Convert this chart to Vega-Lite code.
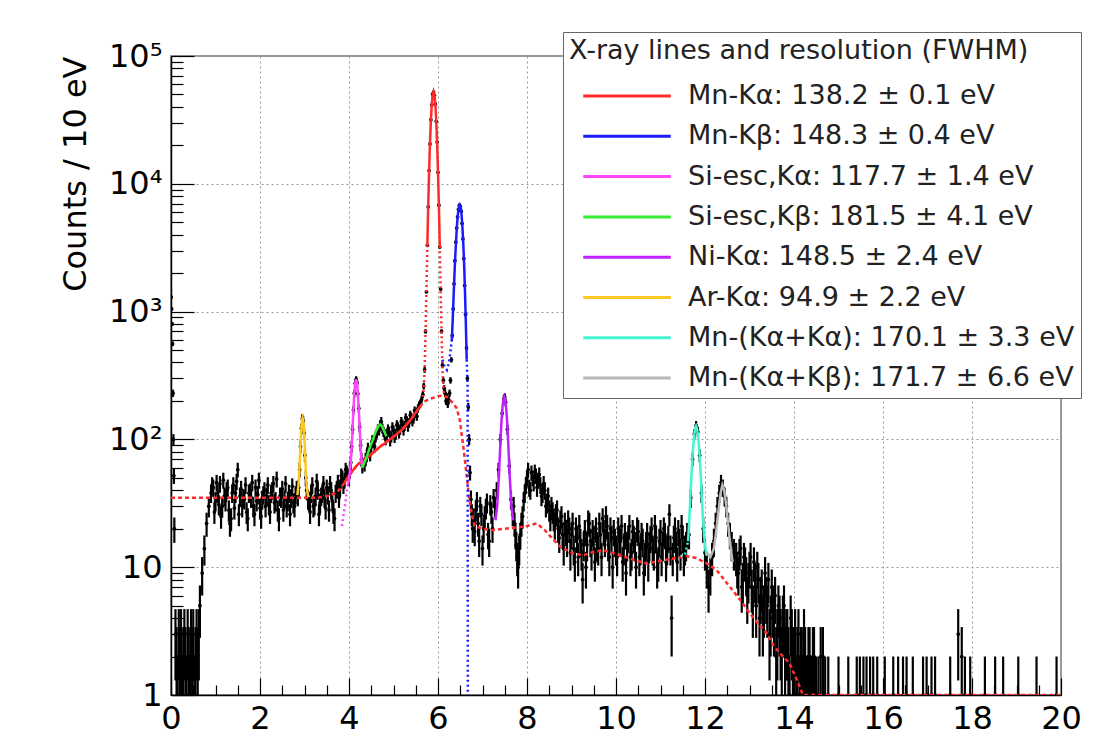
{
"$schema":"https://vega.github.io/schema/vega-lite/v6.json",
"width":890,"height":639,
"autosize":"none",
"padding":{"left":171,"top":56,"right":40,"bottom":60},
"background":"white",
"config":{"view":{"stroke":"#999","strokeWidth":2},"font":"DejaVu Sans","axis":{"labelFont":"DejaVu Sans","titleFont":"DejaVu Sans","labelColor":"black","titleColor":"black"}},
"resolve":{"axis":{"x":"independent","y":"independent"}},
"datasets":{
"data":[
{"x":0.005,"y":1300,"lo":1264,"hi":1336},{"x":0.015,"y":1050,"lo":1018,"hi":1082},{"x":0.025,"y":800,"lo":772,"hi":828},{"x":0.035,"y":560,"lo":536,"hi":584},{"x":0.045,"y":230,"lo":215,"hi":245},{"x":0.055,"y":100,"lo":90,"hi":110},{"x":0.065,"y":52,"lo":44.8,"hi":59.2},{"x":0.075,"y":20,"lo":15.5,"hi":24.5},
{"x":0.1,"y":3,"lo":1.3,"hi":4.7},{"x":0.125,"y":2,"lo":0.6,"hi":3.4},{"x":0.15,"y":1,"lo":0.5,"hi":2},{"x":0.175,"y":3,"lo":1.3,"hi":4.7},{"x":0.2,"y":2,"lo":0.6,"hi":3.4},{"x":0.225,"y":3,"lo":1.3,"hi":4.7},{"x":0.25,"y":1,"lo":0.5,"hi":2},{"x":0.275,"y":2,"lo":0.6,"hi":3.4},{"x":0.3,"y":3,"lo":1.3,"hi":4.7},{"x":0.325,"y":2,"lo":0.6,"hi":3.4},{"x":0.35,"y":1,"lo":0.5,"hi":2},{"x":0.375,"y":3,"lo":1.3,"hi":4.7},{"x":0.4,"y":2,"lo":0.6,"hi":3.4},{"x":0.425,"y":1,"lo":0.5,"hi":2},{"x":0.45,"y":3,"lo":1.3,"hi":4.7},{"x":0.475,"y":2,"lo":0.6,"hi":3.4},{"x":0.5,"y":3,"lo":1.3,"hi":4.7},{"x":0.525,"y":1,"lo":0.5,"hi":2},{"x":0.55,"y":2,"lo":0.6,"hi":3.4},{"x":0.575,"y":3,"lo":1.3,"hi":4.7},{"x":0.6,"y":2,"lo":0.6,"hi":3.4},{"x":0.625,"y":3,"lo":1.3,"hi":4.7},
{"x":0.65,"y":5,"lo":2.8,"hi":7.2},{"x":0.7,"y":9,"lo":6,"hi":12},{"x":0.75,"y":14,"lo":10.3,"hi":17.7},{"x":0.8,"y":22,"lo":17.3,"hi":26.7},{"x":0.85,"y":30,"lo":24.5,"hi":35.5},{"x":0.9,"y":38,"lo":31.8,"hi":44.2},
{"x":0.95,"y":42,"lo":35.5,"hi":48.5},{"x":1.0,"y":33,"lo":27.3,"hi":38.7},{"x":1.05,"y":38,"lo":31.8,"hi":44.2},{"x":1.1,"y":45,"lo":38.3,"hi":51.7},{"x":1.15,"y":30,"lo":24.5,"hi":35.5},{"x":1.2,"y":36,"lo":30,"hi":42},{"x":1.25,"y":40,"lo":33.7,"hi":46.3},{"x":1.3,"y":28,"lo":22.7,"hi":33.3},{"x":1.35,"y":24,"lo":19.1,"hi":28.9},{"x":1.4,"y":44,"lo":37.4,"hi":50.6},{"x":1.45,"y":38,"lo":31.8,"hi":44.2},{"x":1.5,"y":58,"lo":50.4,"hi":65.6},{"x":1.55,"y":36,"lo":30,"hi":42},{"x":1.6,"y":30,"lo":24.5,"hi":35.5},{"x":1.65,"y":34,"lo":28.2,"hi":39.8},{"x":1.7,"y":27,"lo":21.8,"hi":32.2},{"x":1.75,"y":38,"lo":31.8,"hi":44.2},{"x":1.8,"y":35,"lo":29.1,"hi":40.9},{"x":1.85,"y":30,"lo":24.5,"hi":35.5},{"x":1.9,"y":42,"lo":35.5,"hi":48.5},{"x":1.95,"y":37,"lo":30.9,"hi":43.1},{"x":2.0,"y":29,"lo":23.6,"hi":34.4},{"x":2.05,"y":34,"lo":28.2,"hi":39.8},{"x":2.1,"y":40,"lo":33.7,"hi":46.3},{"x":2.15,"y":36,"lo":30,"hi":42},{"x":2.2,"y":31,"lo":25.4,"hi":36.6},{"x":2.25,"y":38,"lo":31.8,"hi":44.2},{"x":2.3,"y":45,"lo":38.3,"hi":51.7},{"x":2.35,"y":33,"lo":27.3,"hi":38.7},{"x":2.4,"y":28,"lo":22.7,"hi":33.3},{"x":2.45,"y":36,"lo":30,"hi":42},{"x":2.5,"y":41,"lo":34.6,"hi":47.4},{"x":2.55,"y":34,"lo":28.2,"hi":39.8},{"x":2.6,"y":30,"lo":24.5,"hi":35.5},{"x":2.65,"y":38,"lo":31.8,"hi":44.2},{"x":2.7,"y":35,"lo":29.1,"hi":40.9},{"x":2.75,"y":32,"lo":26.3,"hi":37.7},{"x":2.8,"y":37,"lo":30.9,"hi":43.1},
{"x":2.85,"y":36,"lo":30,"hi":42},{"x":2.87,"y":42,"lo":35.5,"hi":48.5},{"x":2.89,"y":58,"lo":50.4,"hi":65.6},{"x":2.91,"y":88,"lo":78.6,"hi":97.4},{"x":2.93,"y":122,"lo":111,"hi":133},{"x":2.95,"y":145,"lo":133,"hi":157},{"x":2.97,"y":140,"lo":128.2,"hi":151.8},{"x":2.99,"y":112,"lo":101.4,"hi":122.6},{"x":3.01,"y":75,"lo":66.3,"hi":83.7},{"x":3.03,"y":50,"lo":42.9,"hi":57.1},{"x":3.05,"y":40,"lo":33.7,"hi":46.3},{"x":3.08,"y":34,"lo":28.2,"hi":39.8},
{"x":3.1,"y":33,"lo":27.3,"hi":38.7},{"x":3.15,"y":38,"lo":31.8,"hi":44.2},{"x":3.2,"y":30,"lo":24.5,"hi":35.5},{"x":3.25,"y":36,"lo":30,"hi":42},{"x":3.3,"y":40,"lo":33.7,"hi":46.3},{"x":3.35,"y":32,"lo":26.3,"hi":37.7},{"x":3.4,"y":38,"lo":31.8,"hi":44.2},{"x":3.45,"y":35,"lo":29.1,"hi":40.9},{"x":3.5,"y":42,"lo":35.5,"hi":48.5},{"x":3.55,"y":28,"lo":22.7,"hi":33.3},{"x":3.6,"y":40,"lo":33.7,"hi":46.3},{"x":3.65,"y":27,"lo":21.8,"hi":32.2},{"x":3.7,"y":38,"lo":31.8,"hi":44.2},{"x":3.75,"y":46,"lo":39.2,"hi":52.8},{"x":3.8,"y":42,"lo":35.5,"hi":48.5},{"x":3.85,"y":50,"lo":42.9,"hi":57.1},{"x":3.9,"y":48,"lo":41.1,"hi":54.9},{"x":3.95,"y":55,"lo":47.6,"hi":62.4},
{"x":4.0,"y":50,"lo":42.9,"hi":57.1},{"x":4.02,"y":58,"lo":50.4,"hi":65.6},{"x":4.04,"y":66,"lo":57.9,"hi":74.1},{"x":4.06,"y":88,"lo":78.6,"hi":97.4},{"x":4.08,"y":120,"lo":109,"hi":131},{"x":4.1,"y":170,"lo":157,"hi":183},{"x":4.12,"y":230,"lo":214.8,"hi":245.2},{"x":4.14,"y":275,"lo":258.4,"hi":291.6},{"x":4.16,"y":295,"lo":277.8,"hi":312.2},{"x":4.18,"y":278,"lo":261.3,"hi":294.7},{"x":4.2,"y":228,"lo":212.9,"hi":243.1},{"x":4.22,"y":175,"lo":161.8,"hi":188.2},{"x":4.24,"y":125,"lo":113.8,"hi":136.2},{"x":4.26,"y":90,"lo":80.5,"hi":99.5},{"x":4.28,"y":70,"lo":61.6,"hi":78.4},{"x":4.3,"y":62,"lo":54.1,"hi":69.9},
{"x":4.35,"y":64,"lo":56,"hi":72},{"x":4.4,"y":75,"lo":66.3,"hi":83.7},{"x":4.45,"y":80,"lo":71.1,"hi":88.9},{"x":4.5,"y":88,"lo":78.6,"hi":97.4},{"x":4.55,"y":95,"lo":85.3,"hi":104.7},{"x":4.6,"y":105,"lo":94.8,"hi":115.2},{"x":4.65,"y":120,"lo":109,"hi":131},{"x":4.7,"y":130,"lo":118.6,"hi":141.4},{"x":4.75,"y":122,"lo":111,"hi":133},{"x":4.8,"y":110,"lo":99.5,"hi":120.5},{"x":4.85,"y":108,"lo":97.6,"hi":118.4},{"x":4.9,"y":115,"lo":104.3,"hi":125.7},{"x":4.95,"y":105,"lo":94.8,"hi":115.2},{"x":5.0,"y":118,"lo":107.1,"hi":128.9},{"x":5.05,"y":110,"lo":99.5,"hi":120.5},{"x":5.1,"y":125,"lo":113.8,"hi":136.2},{"x":5.15,"y":120,"lo":109,"hi":131},{"x":5.2,"y":132,"lo":120.5,"hi":143.5},{"x":5.25,"y":128,"lo":116.7,"hi":139.3},{"x":5.3,"y":140,"lo":128.2,"hi":151.8},{"x":5.35,"y":135,"lo":123.4,"hi":146.6},{"x":5.4,"y":150,"lo":137.8,"hi":162.2},{"x":5.45,"y":145,"lo":133,"hi":157},{"x":5.5,"y":160,"lo":147.4,"hi":172.6},{"x":5.55,"y":175,"lo":161.8,"hi":188.2},{"x":5.6,"y":190,"lo":176.2,"hi":203.8},{"x":5.63,"y":205,"lo":190.7,"hi":219.3},
{"x":5.66,"y":225,"lo":210,"hi":240},{"x":5.68,"y":262,"lo":245.8,"hi":278.2},{"x":5.7,"y":350,"lo":331.3,"hi":368.7},{"x":5.72,"y":700,"lo":673.5,"hi":726.5},{"x":5.74,"y":1430,"lo":1392,"hi":1468},{"x":5.76,"y":3300,"lo":3243,"hi":3357},{"x":5.78,"y":6600,"lo":6519,"hi":6681},{"x":5.8,"y":12700,"lo":12587,"hi":12813},{"x":5.82,"y":20500,"lo":20357,"hi":20643},{"x":5.84,"y":31700,"lo":31522,"hi":31878},{"x":5.86,"y":41300,"lo":41097,"hi":41503},{"x":5.88,"y":50200,"lo":49976,"hi":50424},{"x":5.9,"y":52100,"lo":51872,"hi":52328},{"x":5.92,"y":49300,"lo":49078,"hi":49522},{"x":5.94,"y":42200,"lo":41995,"hi":42405},{"x":5.96,"y":30800,"lo":30625,"hi":30975},{"x":5.98,"y":21200,"lo":21054,"hi":21346},{"x":6.0,"y":12300,"lo":12189,"hi":12411},{"x":6.02,"y":6800,"lo":6718,"hi":6882},{"x":6.04,"y":3200,"lo":3143,"hi":3257},{"x":6.06,"y":1500,"lo":1461,"hi":1539},{"x":6.08,"y":700,"lo":673.5,"hi":726.5},{"x":6.1,"y":380,"lo":360.5,"hi":399.5},{"x":6.12,"y":290,"lo":273,"hi":307},{"x":6.14,"y":250,"lo":234.2,"hi":265.8},{"x":6.16,"y":230,"lo":214.8,"hi":245.2},{"x":6.18,"y":200,"lo":185.9,"hi":214.1},{"x":6.2,"y":215,"lo":200.3,"hi":229.7},{"x":6.22,"y":190,"lo":176.2,"hi":203.8},{"x":6.24,"y":205,"lo":190.7,"hi":219.3},{"x":6.26,"y":230,"lo":214.8,"hi":245.2},{"x":6.28,"y":290,"lo":273,"hi":307},{"x":6.3,"y":420,"lo":399.5,"hi":440.5},
{"x":6.32,"y":650,"lo":624.5,"hi":675.5},{"x":6.34,"y":1050,"lo":1017.6,"hi":1082.4},{"x":6.36,"y":1650,"lo":1609.4,"hi":1690.6},{"x":6.38,"y":2500,"lo":2450,"hi":2550},{"x":6.4,"y":3500,"lo":3441,"hi":3559},{"x":6.42,"y":4500,"lo":4433,"hi":4567},{"x":6.44,"y":5500,"lo":5426,"hi":5574},{"x":6.46,"y":6300,"lo":6221,"hi":6379},{"x":6.48,"y":6800,"lo":6718,"hi":6882},{"x":6.5,"y":6700,"lo":6618,"hi":6782},{"x":6.52,"y":6100,"lo":6022,"hi":6178},{"x":6.54,"y":4900,"lo":4830,"hi":4970},{"x":6.56,"y":3700,"lo":3639,"hi":3761},{"x":6.58,"y":2600,"lo":2549,"hi":2651},{"x":6.6,"y":1600,"lo":1560,"hi":1640},{"x":6.62,"y":950,"lo":919.2,"hi":980.8},{"x":6.64,"y":520,"lo":497.2,"hi":542.8},{"x":6.66,"y":300,"lo":282.7,"hi":317.3},{"x":6.68,"y":180,"lo":166.6,"hi":193.4},{"x":6.7,"y":100,"lo":90,"hi":110},{"x":6.72,"y":55,"lo":47.6,"hi":62.4},{"x":6.74,"y":34,"lo":28.2,"hi":39.8},{"x":6.76,"y":26,"lo":20.9,"hi":31.1},{"x":6.78,"y":20,"lo":15.5,"hi":24.5},{"x":6.8,"y":24,"lo":19.1,"hi":28.9},
{"x":6.85,"y":28,"lo":22.7,"hi":33.3},{"x":6.9,"y":22,"lo":17.3,"hi":26.7},{"x":6.95,"y":30,"lo":24.5,"hi":35.5},{"x":7.0,"y":14,"lo":10.3,"hi":17.7},{"x":7.05,"y":25,"lo":20,"hi":30},{"x":7.1,"y":32,"lo":26.3,"hi":37.7},{"x":7.15,"y":16,"lo":12,"hi":20},{"x":7.2,"y":27,"lo":21.8,"hi":32.2},{"x":7.25,"y":35,"lo":29.1,"hi":40.9},
{"x":7.28,"y":30,"lo":24.5,"hi":35.5},{"x":7.32,"y":40,"lo":33.7,"hi":46.3},{"x":7.36,"y":58,"lo":50.4,"hi":65.6},{"x":7.4,"y":100,"lo":90,"hi":110},{"x":7.44,"y":160,"lo":147.4,"hi":172.6},{"x":7.48,"y":208,"lo":193.6,"hi":222.4},{"x":7.5,"y":215,"lo":200.3,"hi":229.7},{"x":7.52,"y":195,"lo":181,"hi":209},{"x":7.56,"y":120,"lo":109,"hi":131},{"x":7.6,"y":62,"lo":54.1,"hi":69.9},{"x":7.64,"y":34,"lo":28.2,"hi":39.8},{"x":7.68,"y":26,"lo":20.9,"hi":31.1},
{"x":7.72,"y":22,"lo":17.3,"hi":26.7},{"x":7.76,"y":15,"lo":11.1,"hi":18.9},{"x":7.8,"y":10,"lo":6.8,"hi":13.2},{"x":7.85,"y":18,"lo":13.8,"hi":22.2},{"x":7.9,"y":25,"lo":20,"hi":30},{"x":7.95,"y":38,"lo":31.8,"hi":44.2},{"x":8.0,"y":50,"lo":42.9,"hi":57.1},{"x":8.05,"y":42,"lo":35.5,"hi":48.5},{"x":8.1,"y":55,"lo":47.6,"hi":62.4},{"x":8.15,"y":46,"lo":39.2,"hi":52.8},{"x":8.2,"y":52,"lo":44.8,"hi":59.2},{"x":8.25,"y":48,"lo":41.1,"hi":54.9},{"x":8.3,"y":44,"lo":37.4,"hi":50.6},{"x":8.35,"y":38,"lo":31.8,"hi":44.2},{"x":8.4,"y":40,"lo":33.7,"hi":46.3},{"x":8.45,"y":32,"lo":26.3,"hi":37.7},{"x":8.5,"y":28,"lo":22.7,"hi":33.3},{"x":8.55,"y":30,"lo":24.5,"hi":35.5},{"x":8.6,"y":24,"lo":19.1,"hi":28.9},{"x":8.65,"y":26,"lo":20.9,"hi":31.1},{"x":8.7,"y":20,"lo":15.5,"hi":24.5},{"x":8.75,"y":23,"lo":18.2,"hi":27.8},{"x":8.8,"y":18,"lo":13.8,"hi":22.2},{"x":8.85,"y":22,"lo":17.3,"hi":26.7},{"x":8.9,"y":16,"lo":12,"hi":20},{"x":8.95,"y":20,"lo":15.5,"hi":24.5},
{"x":9.0,"y":18,"lo":13.8,"hi":22.2},{"x":9.05,"y":14,"lo":10.3,"hi":17.7},{"x":9.1,"y":20,"lo":15.5,"hi":24.5},{"x":9.15,"y":12,"lo":8.5,"hi":15.5},{"x":9.2,"y":16,"lo":12,"hi":20},{"x":9.25,"y":8,"lo":5.2,"hi":10.8},{"x":9.3,"y":19,"lo":14.6,"hi":23.4},{"x":9.35,"y":15,"lo":11.1,"hi":18.9},{"x":9.4,"y":22,"lo":17.3,"hi":26.7},{"x":9.45,"y":13,"lo":9.4,"hi":16.6},{"x":9.5,"y":17,"lo":12.9,"hi":21.1},{"x":9.55,"y":20,"lo":15.5,"hi":24.5},{"x":9.6,"y":14,"lo":10.3,"hi":17.7},{"x":9.65,"y":18,"lo":13.8,"hi":22.2},{"x":9.7,"y":24,"lo":19.1,"hi":28.9},{"x":9.75,"y":16,"lo":12,"hi":20},{"x":9.8,"y":21,"lo":16.4,"hi":25.6},{"x":9.85,"y":12,"lo":8.5,"hi":15.5},{"x":9.9,"y":17,"lo":12.9,"hi":21.1},{"x":9.95,"y":19,"lo":14.6,"hi":23.4},{"x":10.0,"y":14,"lo":10.3,"hi":17.7},{"x":10.05,"y":20,"lo":15.5,"hi":24.5},{"x":10.1,"y":16,"lo":12,"hi":20},{"x":10.15,"y":11,"lo":7.7,"hi":14.3},{"x":10.2,"y":18,"lo":13.8,"hi":22.2},{"x":10.25,"y":15,"lo":11.1,"hi":18.9},{"x":10.3,"y":21,"lo":16.4,"hi":25.6},{"x":10.35,"y":13,"lo":9.4,"hi":16.6},{"x":10.4,"y":17,"lo":12.9,"hi":21.1},{"x":10.45,"y":10,"lo":6.8,"hi":13.2},{"x":10.5,"y":19,"lo":14.6,"hi":23.4},{"x":10.55,"y":14,"lo":10.3,"hi":17.7},{"x":10.6,"y":16,"lo":12,"hi":20},{"x":10.65,"y":12,"lo":8.5,"hi":15.5},{"x":10.7,"y":18,"lo":13.8,"hi":22.2},{"x":10.75,"y":15,"lo":11.1,"hi":18.9},{"x":10.8,"y":20,"lo":15.5,"hi":24.5},{"x":10.85,"y":13,"lo":9.4,"hi":16.6},{"x":10.9,"y":17,"lo":12.9,"hi":21.1},{"x":10.95,"y":11,"lo":7.7,"hi":14.3},{"x":11.0,"y":19,"lo":14.6,"hi":23.4},{"x":11.05,"y":15,"lo":11.1,"hi":18.9},{"x":11.1,"y":18,"lo":13.8,"hi":22.2},{"x":11.15,"y":14,"lo":10.3,"hi":17.7},{"x":11.2,"y":26,"lo":20.9,"hi":31.1},{"x":11.25,"y":4,"lo":2,"hi":6},{"x":11.3,"y":17,"lo":12.9,"hi":21.1},{"x":11.35,"y":15,"lo":11.1,"hi":18.9},{"x":11.4,"y":19,"lo":14.6,"hi":23.4},{"x":11.45,"y":13,"lo":9.4,"hi":16.6},{"x":11.5,"y":17,"lo":12.9,"hi":21.1},{"x":11.55,"y":14,"lo":10.3,"hi":17.7},{"x":11.6,"y":18,"lo":13.8,"hi":22.2},
{"x":11.64,"y":18,"lo":13.8,"hi":22.2},{"x":11.68,"y":35,"lo":29.1,"hi":40.9},{"x":11.72,"y":70,"lo":61.6,"hi":78.4},{"x":11.76,"y":110,"lo":99.5,"hi":120.5},{"x":11.8,"y":128,"lo":116.7,"hi":139.3},{"x":11.84,"y":115,"lo":104.3,"hi":125.7},{"x":11.88,"y":75,"lo":66.3,"hi":83.7},{"x":11.92,"y":38,"lo":31.8,"hi":44.2},{"x":11.96,"y":20,"lo":15.5,"hi":24.5},{"x":12.0,"y":13,"lo":9.4,"hi":16.6},
{"x":12.04,"y":10,"lo":6.8,"hi":13.2},{"x":12.08,"y":7,"lo":4.4,"hi":9.6},{"x":12.12,"y":9,"lo":6,"hi":12},{"x":12.16,"y":12,"lo":8.5,"hi":15.5},{"x":12.2,"y":16,"lo":12,"hi":20},{"x":12.24,"y":22,"lo":17.3,"hi":26.7},{"x":12.28,"y":30,"lo":24.5,"hi":35.5},{"x":12.32,"y":38,"lo":31.8,"hi":44.2},{"x":12.36,"y":46,"lo":39.2,"hi":52.8},{"x":12.4,"y":42,"lo":35.5,"hi":48.5},{"x":12.44,"y":36,"lo":30,"hi":42},{"x":12.48,"y":30,"lo":24.5,"hi":35.5},{"x":12.52,"y":22,"lo":17.3,"hi":26.7},{"x":12.56,"y":18,"lo":13.8,"hi":22.2},{"x":12.6,"y":15,"lo":11.1,"hi":18.9},{"x":12.65,"y":13,"lo":9.4,"hi":16.6},
{"x":12.7,"y":12,"lo":8.5,"hi":15.5},{"x":12.725,"y":10,"lo":6.8,"hi":13.2},{"x":12.75,"y":9,"lo":6,"hi":12},{"x":12.775,"y":13,"lo":9.4,"hi":16.6},{"x":12.8,"y":14,"lo":10.3,"hi":17.7},{"x":12.825,"y":7,"lo":4.4,"hi":9.6},{"x":12.85,"y":8,"lo":5.2,"hi":10.8},{"x":12.875,"y":12,"lo":8.5,"hi":15.5},{"x":12.9,"y":11,"lo":7.7,"hi":14.3},{"x":12.925,"y":9,"lo":6,"hi":12},{"x":12.95,"y":6,"lo":3.6,"hi":8.4},{"x":12.975,"y":8,"lo":5.2,"hi":10.8},{"x":13.0,"y":10,"lo":6.8,"hi":13.2},{"x":13.025,"y":12,"lo":8.5,"hi":15.5},{"x":13.05,"y":7,"lo":4.4,"hi":9.6},{"x":13.075,"y":5,"lo":2.8,"hi":7.2},{"x":13.1,"y":11,"lo":7.7,"hi":14.3},{"x":13.125,"y":8,"lo":5.2,"hi":10.8},{"x":13.15,"y":5,"lo":2.8,"hi":7.2},{"x":13.175,"y":10,"lo":6.8,"hi":13.2},{"x":13.2,"y":8,"lo":5.2,"hi":10.8},{"x":13.225,"y":4,"lo":2,"hi":6},{"x":13.25,"y":6,"lo":3.6,"hi":8.4},{"x":13.275,"y":7,"lo":4.4,"hi":9.6},{"x":13.3,"y":4,"lo":2,"hi":6},{"x":13.325,"y":5,"lo":2.8,"hi":7.2},{"x":13.35,"y":9,"lo":6,"hi":12},{"x":13.375,"y":6,"lo":3.6,"hi":8.4},{"x":13.4,"y":5,"lo":2.8,"hi":7.2},{"x":13.425,"y":8,"lo":5.2,"hi":10.8},{"x":13.45,"y":3,"lo":1.3,"hi":4.7},{"x":13.475,"y":4,"lo":2,"hi":6},{"x":13.5,"y":7,"lo":4.4,"hi":9.6},{"x":13.525,"y":5,"lo":2.8,"hi":7.2},{"x":13.55,"y":4,"lo":2,"hi":6},{"x":13.575,"y":6,"lo":3.6,"hi":8.4},{"x":13.6,"y":2,"lo":0.6,"hi":3.4},{"x":13.625,"y":3,"lo":1.3,"hi":4.7},{"x":13.65,"y":5,"lo":2.8,"hi":7.2},{"x":13.675,"y":4,"lo":2,"hi":6},{"x":13.7,"y":3,"lo":1.3,"hi":4.7},{"x":13.725,"y":2,"lo":0.6,"hi":3.4},{"x":13.75,"y":4,"lo":2,"hi":6},{"x":13.775,"y":5,"lo":2.8,"hi":7.2},{"x":13.8,"y":2,"lo":0.6,"hi":3.4},{"x":13.825,"y":3,"lo":1.3,"hi":4.7},{"x":13.85,"y":3,"lo":1.3,"hi":4.7},{"x":13.875,"y":2,"lo":0.6,"hi":3.4},{"x":13.9,"y":1,"lo":0.5,"hi":2},{"x":13.925,"y":4,"lo":2,"hi":6},{"x":13.95,"y":3,"lo":1.3,"hi":4.7},{"x":13.975,"y":2,"lo":0.6,"hi":3.4},{"x":14.0,"y":2,"lo":0.6,"hi":3.4},{"x":14.025,"y":3,"lo":1.3,"hi":4.7},{"x":14.05,"y":1,"lo":0.5,"hi":2},{"x":14.075,"y":2,"lo":0.6,"hi":3.4},{"x":14.1,"y":3,"lo":1.3,"hi":4.7},{"x":14.125,"y":1,"lo":0.5,"hi":2},{"x":14.15,"y":2,"lo":0.6,"hi":3.4},{"x":14.175,"y":2,"lo":0.6,"hi":3.4},{"x":14.2,"y":1,"lo":0.5,"hi":2},{"x":14.225,"y":3,"lo":1.3,"hi":4.7},{"x":14.25,"y":2,"lo":0.6,"hi":3.4},{"x":14.275,"y":1,"lo":0.5,"hi":2},{"x":14.3,"y":1,"lo":0.5,"hi":2},{"x":14.325,"y":2,"lo":0.6,"hi":3.4},{"x":14.35,"y":2,"lo":0.6,"hi":3.4},{"x":14.375,"y":1,"lo":0.5,"hi":2},{"x":14.4,"y":1,"lo":0.5,"hi":2},{"x":14.425,"y":2,"lo":0.6,"hi":3.4},{"x":14.45,"y":2,"lo":0.6,"hi":3.4},{"x":14.475,"y":1,"lo":0.5,"hi":2},{"x":14.5,"y":1,"lo":0.5,"hi":2},{"x":14.55,"y":1,"lo":0.5,"hi":2},{"x":14.6,"y":2,"lo":0.6,"hi":3.4},{"x":14.65,"y":2,"lo":0.6,"hi":3.4},{"x":14.7,"y":1,"lo":0.5,"hi":2},
{"x":14.77,"y":1,"lo":0.5,"hi":2},{"x":15.0,"y":1,"lo":0.5,"hi":2},{"x":15.22,"y":1,"lo":0.5,"hi":2},{"x":15.41,"y":1,"lo":0.5,"hi":2},{"x":15.48,"y":1,"lo":0.5,"hi":2},{"x":15.56,"y":1,"lo":0.5,"hi":2},{"x":15.63,"y":1,"lo":0.5,"hi":2},{"x":15.71,"y":1,"lo":0.5,"hi":2},{"x":15.78,"y":1,"lo":0.5,"hi":2},{"x":15.87,"y":1,"lo":0.5,"hi":2},{"x":16.04,"y":1,"lo":0.5,"hi":2},{"x":16.23,"y":1,"lo":0.5,"hi":2},{"x":16.34,"y":1,"lo":0.5,"hi":2},{"x":16.45,"y":1,"lo":0.5,"hi":2},{"x":16.53,"y":1,"lo":0.5,"hi":2},{"x":16.67,"y":1,"lo":0.5,"hi":2},{"x":16.9,"y":1,"lo":0.5,"hi":2},{"x":16.98,"y":1,"lo":0.5,"hi":2},{"x":17.09,"y":1,"lo":0.5,"hi":2},{"x":17.17,"y":1,"lo":0.5,"hi":2},{"x":17.51,"y":1,"lo":0.5,"hi":2},{"x":17.69,"y":3,"lo":1.3,"hi":4.7},{"x":17.77,"y":2,"lo":0.6,"hi":3.4},{"x":17.84,"y":1,"lo":0.5,"hi":2},{"x":17.96,"y":1,"lo":0.5,"hi":2},{"x":18.29,"y":1,"lo":0.5,"hi":2},{"x":18.52,"y":1,"lo":0.5,"hi":2},{"x":18.7,"y":1,"lo":0.5,"hi":2},{"x":19.04,"y":1,"lo":0.5,"hi":2},{"x":19.45,"y":1,"lo":0.5,"hi":2},{"x":19.9,"y":1,"lo":0.5,"hi":2},
{"x":0.925,"y":44,"lo":37.4,"hi":50.6},{"x":0.975,"y":27,"lo":21.8,"hi":32.2},{"x":1.025,"y":46,"lo":39.2,"hi":52.8},{"x":1.075,"y":31,"lo":25.4,"hi":36.6},{"x":1.125,"y":25,"lo":20,"hi":30},{"x":1.175,"y":48,"lo":41.1,"hi":54.9},{"x":1.225,"y":33,"lo":27.3,"hi":38.7},{"x":1.275,"y":42,"lo":35.5,"hi":48.5},{"x":1.325,"y":22,"lo":17.3,"hi":26.7},{"x":1.375,"y":38,"lo":31.8,"hi":44.2},{"x":1.425,"y":29,"lo":23.6,"hi":34.4},{"x":1.475,"y":47,"lo":40.1,"hi":53.9},{"x":1.525,"y":26,"lo":20.9,"hi":31.1},{"x":1.575,"y":41,"lo":34.6,"hi":47.4},{"x":1.625,"y":35,"lo":29.1,"hi":40.9},{"x":1.675,"y":44,"lo":37.4,"hi":50.6},{"x":1.725,"y":24,"lo":19.1,"hi":28.9},{"x":1.775,"y":39,"lo":32.8,"hi":45.2},{"x":1.825,"y":46,"lo":39.2,"hi":52.8},{"x":1.875,"y":26,"lo":20.9,"hi":31.1},{"x":1.925,"y":33,"lo":27.3,"hi":38.7},{"x":1.975,"y":48,"lo":41.1,"hi":54.9},{"x":2.025,"y":25,"lo":20,"hi":30},{"x":2.075,"y":37,"lo":30.9,"hi":43.1},{"x":2.125,"y":30,"lo":24.5,"hi":35.5},{"x":2.175,"y":44,"lo":37.4,"hi":50.6},{"x":2.225,"y":27,"lo":21.8,"hi":32.2},{"x":2.275,"y":40,"lo":33.7,"hi":46.3},{"x":2.325,"y":32,"lo":26.3,"hi":37.7},{"x":2.375,"y":49,"lo":42,"hi":56},{"x":2.425,"y":24,"lo":19.1,"hi":28.9},{"x":2.475,"y":35,"lo":29.1,"hi":40.9},{"x":2.525,"y":28,"lo":22.7,"hi":33.3},{"x":2.575,"y":45,"lo":38.3,"hi":51.7},{"x":2.625,"y":33,"lo":27.3,"hi":38.7},{"x":2.675,"y":26,"lo":20.9,"hi":31.1},{"x":2.725,"y":43,"lo":36.4,"hi":49.6},{"x":2.775,"y":30,"lo":24.5,"hi":35.5},{"x":2.825,"y":41,"lo":34.6,"hi":47.4},
{"x":3.125,"y":27,"lo":21.8,"hi":32.2},{"x":3.175,"y":44,"lo":37.4,"hi":50.6},{"x":3.225,"y":31,"lo":25.4,"hi":36.6},{"x":3.275,"y":47,"lo":40.1,"hi":53.9},{"x":3.325,"y":26,"lo":20.9,"hi":31.1},{"x":3.375,"y":36,"lo":30,"hi":42},{"x":3.425,"y":45,"lo":38.3,"hi":51.7},{"x":3.475,"y":29,"lo":23.6,"hi":34.4},{"x":3.525,"y":37,"lo":30.9,"hi":43.1},{"x":3.575,"y":45,"lo":38.3,"hi":51.7},{"x":3.625,"y":33,"lo":27.3,"hi":38.7},{"x":3.675,"y":24,"lo":19.1,"hi":28.9},{"x":3.725,"y":41,"lo":34.6,"hi":47.4},{"x":3.775,"y":35,"lo":29.1,"hi":40.9},{"x":3.825,"y":52,"lo":44.8,"hi":59.2},{"x":3.875,"y":44,"lo":37.4,"hi":50.6},{"x":3.925,"y":58,"lo":50.4,"hi":65.6},
{"x":4.375,"y":70,"lo":61.6,"hi":78.4},{"x":4.425,"y":85,"lo":75.8,"hi":94.2},{"x":4.475,"y":76,"lo":67.3,"hi":84.7},{"x":4.525,"y":98,"lo":88.1,"hi":107.9},{"x":4.575,"y":88,"lo":78.6,"hi":97.4},{"x":4.625,"y":112,"lo":101.4,"hi":122.6},{"x":4.675,"y":118,"lo":107.1,"hi":128.9},{"x":4.725,"y":138,"lo":126.3,"hi":149.7},{"x":4.775,"y":115,"lo":104.3,"hi":125.7},{"x":4.825,"y":100,"lo":90,"hi":110},{"x":4.875,"y":120,"lo":109,"hi":131},{"x":4.925,"y":98,"lo":88.1,"hi":107.9},{"x":4.975,"y":125,"lo":113.8,"hi":136.2},{"x":5.025,"y":104,"lo":93.8,"hi":114.2},{"x":5.075,"y":130,"lo":118.6,"hi":141.4},{"x":5.125,"y":112,"lo":101.4,"hi":122.6},{"x":5.175,"y":138,"lo":126.3,"hi":149.7},{"x":5.225,"y":118,"lo":107.1,"hi":128.9},{"x":5.275,"y":148,"lo":135.8,"hi":160.2},{"x":5.325,"y":126,"lo":114.8,"hi":137.2},{"x":5.375,"y":155,"lo":142.5,"hi":167.5},{"x":5.425,"y":138,"lo":126.3,"hi":149.7},{"x":5.475,"y":168,"lo":155,"hi":181},{"x":5.525,"y":152,"lo":139.7,"hi":164.3},{"x":5.575,"y":185,"lo":171.4,"hi":198.6},
{"x":6.825,"y":19,"lo":14.6,"hi":23.4},{"x":6.875,"y":33,"lo":27.3,"hi":38.7},{"x":6.925,"y":16,"lo":12,"hi":20},{"x":6.975,"y":26,"lo":20.9,"hi":31.1},{"x":7.025,"y":20,"lo":15.5,"hi":24.5},{"x":7.075,"y":29,"lo":23.6,"hi":34.4},{"x":7.125,"y":18,"lo":13.8,"hi":22.2},{"x":7.175,"y":31,"lo":25.4,"hi":36.6},{"x":7.225,"y":20,"lo":15.5,"hi":24.5},
{"x":7.7,"y":30,"lo":24.5,"hi":35.5},{"x":7.74,"y":18,"lo":13.8,"hi":22.2},{"x":7.78,"y":12,"lo":8.5,"hi":15.5},{"x":7.825,"y":14,"lo":10.3,"hi":17.7},{"x":7.875,"y":22,"lo":17.3,"hi":26.7},{"x":7.925,"y":33,"lo":27.3,"hi":38.7},{"x":7.975,"y":44,"lo":37.4,"hi":50.6},{"x":8.025,"y":58,"lo":50.4,"hi":65.6},{"x":8.075,"y":40,"lo":33.7,"hi":46.3},{"x":8.125,"y":50,"lo":42.9,"hi":57.1},{"x":8.175,"y":56,"lo":48.5,"hi":63.5},{"x":8.225,"y":42,"lo":35.5,"hi":48.5},{"x":8.275,"y":53,"lo":45.7,"hi":60.3},{"x":8.325,"y":36,"lo":30,"hi":42},{"x":8.375,"y":45,"lo":38.3,"hi":51.7},{"x":8.425,"y":30,"lo":24.5,"hi":35.5},{"x":8.475,"y":36,"lo":30,"hi":42},{"x":8.525,"y":24,"lo":19.1,"hi":28.9},{"x":8.575,"y":27,"lo":21.8,"hi":32.2},{"x":8.625,"y":21,"lo":16.4,"hi":25.6},{"x":8.675,"y":28,"lo":22.7,"hi":33.3},{"x":8.725,"y":17,"lo":12.9,"hi":21.1},{"x":8.775,"y":25,"lo":20,"hi":30},{"x":8.825,"y":14,"lo":10.3,"hi":17.7},{"x":8.875,"y":19,"lo":14.6,"hi":23.4},{"x":8.925,"y":23,"lo":18.2,"hi":27.8},{"x":8.975,"y":13,"lo":9.4,"hi":16.6},
{"x":9.025,"y":22,"lo":17.3,"hi":26.7},{"x":9.075,"y":11,"lo":7.7,"hi":14.3},{"x":9.125,"y":17,"lo":12.9,"hi":21.1},{"x":9.175,"y":21,"lo":16.4,"hi":25.6},{"x":9.225,"y":13,"lo":9.4,"hi":16.6},{"x":9.275,"y":15,"lo":11.1,"hi":18.9},{"x":9.325,"y":10,"lo":6.8,"hi":13.2},{"x":9.375,"y":23,"lo":18.2,"hi":27.8},{"x":9.425,"y":16,"lo":12,"hi":20},{"x":9.475,"y":19,"lo":14.6,"hi":23.4},{"x":9.525,"y":11,"lo":7.7,"hi":14.3},{"x":9.575,"y":15,"lo":11.1,"hi":18.9},{"x":9.625,"y":22,"lo":17.3,"hi":26.7},{"x":9.675,"y":12,"lo":8.5,"hi":15.5},{"x":9.725,"y":19,"lo":14.6,"hi":23.4},{"x":9.775,"y":25,"lo":20,"hi":30},{"x":9.825,"y":15,"lo":11.1,"hi":18.9},{"x":9.875,"y":20,"lo":15.5,"hi":24.5},{"x":9.925,"y":10,"lo":6.8,"hi":13.2},{"x":9.975,"y":16,"lo":12,"hi":20},{"x":10.025,"y":12,"lo":8.5,"hi":15.5},{"x":10.075,"y":17,"lo":12.9,"hi":21.1},{"x":10.125,"y":21,"lo":16.4,"hi":25.6},{"x":10.175,"y":14,"lo":10.3,"hi":17.7},{"x":10.225,"y":9,"lo":6,"hi":12},{"x":10.275,"y":17,"lo":12.9,"hi":21.1},{"x":10.325,"y":12,"lo":8.5,"hi":15.5},{"x":10.375,"y":19,"lo":14.6,"hi":23.4},{"x":10.425,"y":15,"lo":11.1,"hi":18.9},{"x":10.475,"y":20,"lo":15.5,"hi":24.5},{"x":10.525,"y":12,"lo":8.5,"hi":15.5},{"x":10.575,"y":18,"lo":13.8,"hi":22.2},{"x":10.625,"y":9,"lo":6,"hi":12},{"x":10.675,"y":15,"lo":11.1,"hi":18.9},{"x":10.725,"y":11,"lo":7.7,"hi":14.3},{"x":10.775,"y":17,"lo":12.9,"hi":21.1},{"x":10.825,"y":14,"lo":10.3,"hi":17.7},{"x":10.875,"y":21,"lo":16.4,"hi":25.6},{"x":10.925,"y":10,"lo":6.8,"hi":13.2},{"x":10.975,"y":16,"lo":12,"hi":20},{"x":11.025,"y":12,"lo":8.5,"hi":15.5},{"x":11.075,"y":20,"lo":15.5,"hi":24.5},{"x":11.125,"y":11,"lo":7.7,"hi":14.3},{"x":11.175,"y":17,"lo":12.9,"hi":21.1},{"x":11.225,"y":14,"lo":10.3,"hi":17.7},{"x":11.275,"y":12,"lo":8.5,"hi":15.5},{"x":11.325,"y":20,"lo":15.5,"hi":24.5},{"x":11.375,"y":11,"lo":7.7,"hi":14.3},{"x":11.425,"y":16,"lo":12,"hi":20},{"x":11.475,"y":21,"lo":16.4,"hi":25.6},{"x":11.525,"y":12,"lo":8.5,"hi":15.5},{"x":11.575,"y":15,"lo":11.1,"hi":18.9}
],
"bkg":[
{"x":0,"y":35},{"x":3.3,"y":35},{"x":3.5,"y":36},{"x":3.7,"y":38},{"x":3.8,"y":41},{"x":3.9,"y":46},{"x":4.0,"y":52},{"x":4.2,"y":64},{"x":4.4,"y":72},{"x":4.6,"y":82},{"x":4.8,"y":93},{"x":5.0,"y":105},{"x":5.2,"y":120},{"x":5.4,"y":145},{"x":5.5,"y":162},{"x":5.6,"y":182},{"x":5.7,"y":198},{"x":5.8,"y":207},{"x":5.9,"y":212},{"x":6.0,"y":218},{"x":6.1,"y":220},{"x":6.2,"y":215},{"x":6.27,"y":203},{"x":6.35,"y":190},{"x":6.42,"y":175},{"x":6.49,"y":142},{"x":6.57,"y":87},{"x":6.64,"y":54},{"x":6.7,"y":35},{"x":6.76,"y":26},{"x":6.82,"y":21},{"x":7.0,"y":20},{"x":7.2,"y":19.5},{"x":7.5,"y":20},{"x":7.8,"y":20.5},{"x":8.0,"y":21},{"x":8.22,"y":22},{"x":8.4,"y":19.5},{"x":8.52,"y":17.5},{"x":8.74,"y":14.5},{"x":9.04,"y":12.8},{"x":9.27,"y":12.4},{"x":9.5,"y":13.2},{"x":9.72,"y":13.6},{"x":10.09,"y":12.4},{"x":10.4,"y":11.4},{"x":10.69,"y":10.7},{"x":11.0,"y":11.2},{"x":11.29,"y":11.7},{"x":11.59,"y":12.2},{"x":11.8,"y":11.8},{"x":12.04,"y":10.7},{"x":12.26,"y":9.5},{"x":12.56,"y":7.0},{"x":12.8,"y":5.5},{"x":13.01,"y":4.35},{"x":13.2,"y":3.6},{"x":13.39,"y":3.04},{"x":13.55,"y":2.4},{"x":13.7,"y":2.1},{"x":13.9,"y":1.77},{"x":14.1,"y":1.23},{"x":14.2,"y":1.0},{"x":20,"y":1.0}
],
"fits":[
{"line":"Mn-Kα: 138.2 ± 0.1 eV","seg":"bg","x":3.9,"y":46},{"line":"Mn-Kα: 138.2 ± 0.1 eV","seg":"bg","x":4.0,"y":52},{"line":"Mn-Kα: 138.2 ± 0.1 eV","seg":"bg","x":4.1,"y":58},{"line":"Mn-Kα: 138.2 ± 0.1 eV","seg":"bg","x":4.2,"y":64},{"line":"Mn-Kα: 138.2 ± 0.1 eV","seg":"bg","x":4.3,"y":67},{"line":"Mn-Kα: 138.2 ± 0.1 eV","seg":"bg","x":4.4,"y":72},{"line":"Mn-Kα: 138.2 ± 0.1 eV","seg":"bg","x":4.5,"y":76},{"line":"Mn-Kα: 138.2 ± 0.1 eV","seg":"bg","x":4.6,"y":82},{"line":"Mn-Kα: 138.2 ± 0.1 eV","seg":"bg","x":4.7,"y":88},{"line":"Mn-Kα: 138.2 ± 0.1 eV","seg":"bg","x":4.8,"y":93},{"line":"Mn-Kα: 138.2 ± 0.1 eV","seg":"bg","x":4.9,"y":99},{"line":"Mn-Kα: 138.2 ± 0.1 eV","seg":"bg","x":5.0,"y":105},{"line":"Mn-Kα: 138.2 ± 0.1 eV","seg":"bg","x":5.1,"y":112},{"line":"Mn-Kα: 138.2 ± 0.1 eV","seg":"bg","x":5.2,"y":120},{"line":"Mn-Kα: 138.2 ± 0.1 eV","seg":"bg","x":5.3,"y":131},{"line":"Mn-Kα: 138.2 ± 0.1 eV","seg":"bg","x":5.4,"y":145},{"line":"Mn-Kα: 138.2 ± 0.1 eV","seg":"bg","x":5.5,"y":162},{"line":"Mn-Kα: 138.2 ± 0.1 eV","seg":"bg","x":5.6,"y":182},
{"line":"Mn-Kα: 138.2 ± 0.1 eV","seg":"pk","x":5.76,"y":3250},{"line":"Mn-Kα: 138.2 ± 0.1 eV","seg":"pk","x":5.78,"y":6700},{"line":"Mn-Kα: 138.2 ± 0.1 eV","seg":"pk","x":5.8,"y":12500},{"line":"Mn-Kα: 138.2 ± 0.1 eV","seg":"pk","x":5.82,"y":20900},{"line":"Mn-Kα: 138.2 ± 0.1 eV","seg":"pk","x":5.84,"y":31300},{"line":"Mn-Kα: 138.2 ± 0.1 eV","seg":"pk","x":5.86,"y":41800},{"line":"Mn-Kα: 138.2 ± 0.1 eV","seg":"pk","x":5.88,"y":49700},{"line":"Mn-Kα: 138.2 ± 0.1 eV","seg":"pk","x":5.9,"y":52600},{"line":"Mn-Kα: 138.2 ± 0.1 eV","seg":"pk","x":5.92,"y":49700},{"line":"Mn-Kα: 138.2 ± 0.1 eV","seg":"pk","x":5.94,"y":41800},{"line":"Mn-Kα: 138.2 ± 0.1 eV","seg":"pk","x":5.96,"y":31300},{"line":"Mn-Kα: 138.2 ± 0.1 eV","seg":"pk","x":5.98,"y":20900},{"line":"Mn-Kα: 138.2 ± 0.1 eV","seg":"pk","x":6.0,"y":12500},{"line":"Mn-Kα: 138.2 ± 0.1 eV","seg":"pk","x":6.02,"y":6700},{"line":"Mn-Kα: 138.2 ± 0.1 eV","seg":"pk","x":6.04,"y":3250},
{"line":"Mn-Kβ: 148.3 ± 0.4 eV","seg":"pk","x":6.31,"y":600},{"line":"Mn-Kβ: 148.3 ± 0.4 eV","seg":"pk","x":6.33,"y":850},{"line":"Mn-Kβ: 148.3 ± 0.4 eV","seg":"pk","x":6.35,"y":1300},{"line":"Mn-Kβ: 148.3 ± 0.4 eV","seg":"pk","x":6.37,"y":1950},{"line":"Mn-Kβ: 148.3 ± 0.4 eV","seg":"pk","x":6.39,"y":2800},{"line":"Mn-Kβ: 148.3 ± 0.4 eV","seg":"pk","x":6.41,"y":3800},{"line":"Mn-Kβ: 148.3 ± 0.4 eV","seg":"pk","x":6.43,"y":4900},{"line":"Mn-Kβ: 148.3 ± 0.4 eV","seg":"pk","x":6.45,"y":5900},{"line":"Mn-Kβ: 148.3 ± 0.4 eV","seg":"pk","x":6.47,"y":6600},{"line":"Mn-Kβ: 148.3 ± 0.4 eV","seg":"pk","x":6.49,"y":6850},{"line":"Mn-Kβ: 148.3 ± 0.4 eV","seg":"pk","x":6.51,"y":6600},{"line":"Mn-Kβ: 148.3 ± 0.4 eV","seg":"pk","x":6.53,"y":5700},{"line":"Mn-Kβ: 148.3 ± 0.4 eV","seg":"pk","x":6.55,"y":4500},{"line":"Mn-Kβ: 148.3 ± 0.4 eV","seg":"pk","x":6.57,"y":3300},{"line":"Mn-Kβ: 148.3 ± 0.4 eV","seg":"pk","x":6.59,"y":2200},{"line":"Mn-Kβ: 148.3 ± 0.4 eV","seg":"pk","x":6.61,"y":1300},{"line":"Mn-Kβ: 148.3 ± 0.4 eV","seg":"pk","x":6.63,"y":700},{"line":"Mn-Kβ: 148.3 ± 0.4 eV","seg":"pk","x":6.645,"y":420},
{"line":"Si-esc,Kα: 117.7 ± 1.4 eV","seg":"pk","x":3.97,"y":44},{"line":"Si-esc,Kα: 117.7 ± 1.4 eV","seg":"pk","x":4.0,"y":48},{"line":"Si-esc,Kα: 117.7 ± 1.4 eV","seg":"pk","x":4.02,"y":56},{"line":"Si-esc,Kα: 117.7 ± 1.4 eV","seg":"pk","x":4.04,"y":66},{"line":"Si-esc,Kα: 117.7 ± 1.4 eV","seg":"pk","x":4.06,"y":87},{"line":"Si-esc,Kα: 117.7 ± 1.4 eV","seg":"pk","x":4.08,"y":122},{"line":"Si-esc,Kα: 117.7 ± 1.4 eV","seg":"pk","x":4.1,"y":172},{"line":"Si-esc,Kα: 117.7 ± 1.4 eV","seg":"pk","x":4.12,"y":229},{"line":"Si-esc,Kα: 117.7 ± 1.4 eV","seg":"pk","x":4.14,"y":277},{"line":"Si-esc,Kα: 117.7 ± 1.4 eV","seg":"pk","x":4.16,"y":295},{"line":"Si-esc,Kα: 117.7 ± 1.4 eV","seg":"pk","x":4.18,"y":277},{"line":"Si-esc,Kα: 117.7 ± 1.4 eV","seg":"pk","x":4.2,"y":229},{"line":"Si-esc,Kα: 117.7 ± 1.4 eV","seg":"pk","x":4.22,"y":172},{"line":"Si-esc,Kα: 117.7 ± 1.4 eV","seg":"pk","x":4.24,"y":122},{"line":"Si-esc,Kα: 117.7 ± 1.4 eV","seg":"pk","x":4.26,"y":88},{"line":"Si-esc,Kα: 117.7 ± 1.4 eV","seg":"pk","x":4.28,"y":68},{"line":"Si-esc,Kα: 117.7 ± 1.4 eV","seg":"pk","x":4.3,"y":60},
{"line":"Si-esc,Kβ: 181.5 ± 4.1 eV","seg":"pk","x":4.3,"y":60},{"line":"Si-esc,Kβ: 181.5 ± 4.1 eV","seg":"pk","x":4.38,"y":70},{"line":"Si-esc,Kβ: 181.5 ± 4.1 eV","seg":"pk","x":4.46,"y":85},{"line":"Si-esc,Kβ: 181.5 ± 4.1 eV","seg":"pk","x":4.54,"y":100},{"line":"Si-esc,Kβ: 181.5 ± 4.1 eV","seg":"pk","x":4.6,"y":115},{"line":"Si-esc,Kβ: 181.5 ± 4.1 eV","seg":"pk","x":4.66,"y":127},{"line":"Si-esc,Kβ: 181.5 ± 4.1 eV","seg":"pk","x":4.7,"y":131},{"line":"Si-esc,Kβ: 181.5 ± 4.1 eV","seg":"pk","x":4.74,"y":127},{"line":"Si-esc,Kβ: 181.5 ± 4.1 eV","seg":"pk","x":4.78,"y":118},{"line":"Si-esc,Kβ: 181.5 ± 4.1 eV","seg":"pk","x":4.84,"y":106},
{"line":"Ni-Kα: 148.5 ± 2.4 eV","seg":"pk","x":7.29,"y":23.3},{"line":"Ni-Kα: 148.5 ± 2.4 eV","seg":"pk","x":7.33,"y":30},{"line":"Ni-Kα: 148.5 ± 2.4 eV","seg":"pk","x":7.37,"y":53},{"line":"Ni-Kα: 148.5 ± 2.4 eV","seg":"pk","x":7.41,"y":108},{"line":"Ni-Kα: 148.5 ± 2.4 eV","seg":"pk","x":7.43,"y":145},{"line":"Ni-Kα: 148.5 ± 2.4 eV","seg":"pk","x":7.45,"y":180},{"line":"Ni-Kα: 148.5 ± 2.4 eV","seg":"pk","x":7.47,"y":205},{"line":"Ni-Kα: 148.5 ± 2.4 eV","seg":"pk","x":7.49,"y":215},{"line":"Ni-Kα: 148.5 ± 2.4 eV","seg":"pk","x":7.51,"y":205},{"line":"Ni-Kα: 148.5 ± 2.4 eV","seg":"pk","x":7.53,"y":180},{"line":"Ni-Kα: 148.5 ± 2.4 eV","seg":"pk","x":7.55,"y":145},{"line":"Ni-Kα: 148.5 ± 2.4 eV","seg":"pk","x":7.57,"y":108},{"line":"Ni-Kα: 148.5 ± 2.4 eV","seg":"pk","x":7.61,"y":53},{"line":"Ni-Kα: 148.5 ± 2.4 eV","seg":"pk","x":7.65,"y":30},{"line":"Ni-Kα: 148.5 ± 2.4 eV","seg":"pk","x":7.69,"y":23.3},
{"line":"Ar-Kα: 94.9 ± 2.2 eV","seg":"pk","x":2.84,"y":36.7},{"line":"Ar-Kα: 94.9 ± 2.2 eV","seg":"pk","x":2.87,"y":45.9},{"line":"Ar-Kα: 94.9 ± 2.2 eV","seg":"pk","x":2.89,"y":63},{"line":"Ar-Kα: 94.9 ± 2.2 eV","seg":"pk","x":2.91,"y":92},{"line":"Ar-Kα: 94.9 ± 2.2 eV","seg":"pk","x":2.93,"y":124.5},{"line":"Ar-Kα: 94.9 ± 2.2 eV","seg":"pk","x":2.945,"y":142},{"line":"Ar-Kα: 94.9 ± 2.2 eV","seg":"pk","x":2.957,"y":147},{"line":"Ar-Kα: 94.9 ± 2.2 eV","seg":"pk","x":2.97,"y":141},{"line":"Ar-Kα: 94.9 ± 2.2 eV","seg":"pk","x":2.985,"y":123},{"line":"Ar-Kα: 94.9 ± 2.2 eV","seg":"pk","x":3.005,"y":90},{"line":"Ar-Kα: 94.9 ± 2.2 eV","seg":"pk","x":3.025,"y":62},{"line":"Ar-Kα: 94.9 ± 2.2 eV","seg":"pk","x":3.045,"y":45.4},{"line":"Ar-Kα: 94.9 ± 2.2 eV","seg":"pk","x":3.075,"y":36.5},{"line":"Ar-Kα: 94.9 ± 2.2 eV","seg":"pk","x":3.1,"y":35.3},
{"line":"Mn-(Kα+Kα): 170.1 ± 3.3 eV","seg":"pk","x":11.62,"y":16},{"line":"Mn-(Kα+Kα): 170.1 ± 3.3 eV","seg":"pk","x":11.65,"y":25},{"line":"Mn-(Kα+Kα): 170.1 ± 3.3 eV","seg":"pk","x":11.7,"y":56},{"line":"Mn-(Kα+Kα): 170.1 ± 3.3 eV","seg":"pk","x":11.725,"y":79},{"line":"Mn-(Kα+Kα): 170.1 ± 3.3 eV","seg":"pk","x":11.75,"y":102},{"line":"Mn-(Kα+Kα): 170.1 ± 3.3 eV","seg":"pk","x":11.775,"y":120},{"line":"Mn-(Kα+Kα): 170.1 ± 3.3 eV","seg":"pk","x":11.8,"y":127},{"line":"Mn-(Kα+Kα): 170.1 ± 3.3 eV","seg":"pk","x":11.825,"y":120},{"line":"Mn-(Kα+Kα): 170.1 ± 3.3 eV","seg":"pk","x":11.85,"y":102},{"line":"Mn-(Kα+Kα): 170.1 ± 3.3 eV","seg":"pk","x":11.875,"y":79},{"line":"Mn-(Kα+Kα): 170.1 ± 3.3 eV","seg":"pk","x":11.9,"y":56},{"line":"Mn-(Kα+Kα): 170.1 ± 3.3 eV","seg":"pk","x":11.95,"y":25},{"line":"Mn-(Kα+Kα): 170.1 ± 3.3 eV","seg":"pk","x":12.0,"y":14.5},{"line":"Mn-(Kα+Kα): 170.1 ± 3.3 eV","seg":"pk","x":12.04,"y":12.3},
{"line":"Mn-(Kα+Kβ): 171.7 ± 6.6 eV","seg":"pk","x":12.04,"y":13},{"line":"Mn-(Kα+Kβ): 171.7 ± 6.6 eV","seg":"pk","x":12.12,"y":12},{"line":"Mn-(Kα+Kβ): 171.7 ± 6.6 eV","seg":"pk","x":12.2,"y":14},{"line":"Mn-(Kα+Kβ): 171.7 ± 6.6 eV","seg":"pk","x":12.25,"y":19},{"line":"Mn-(Kα+Kβ): 171.7 ± 6.6 eV","seg":"pk","x":12.3,"y":27},{"line":"Mn-(Kα+Kβ): 171.7 ± 6.6 eV","seg":"pk","x":12.35,"y":38},{"line":"Mn-(Kα+Kβ): 171.7 ± 6.6 eV","seg":"pk","x":12.39,"y":44},{"line":"Mn-(Kα+Kβ): 171.7 ± 6.6 eV","seg":"pk","x":12.43,"y":40},{"line":"Mn-(Kα+Kβ): 171.7 ± 6.6 eV","seg":"pk","x":12.48,"y":30},{"line":"Mn-(Kα+Kβ): 171.7 ± 6.6 eV","seg":"pk","x":12.53,"y":20},{"line":"Mn-(Kα+Kβ): 171.7 ± 6.6 eV","seg":"pk","x":12.58,"y":14},{"line":"Mn-(Kα+Kβ): 171.7 ± 6.6 eV","seg":"pk","x":12.62,"y":11}
],
"tails":[
{"line":"Mn-Kα: 138.2 ± 0.1 eV","seg":"l","x":5.66,"y":215},{"line":"Mn-Kα: 138.2 ± 0.1 eV","seg":"l","x":5.68,"y":250},{"line":"Mn-Kα: 138.2 ± 0.1 eV","seg":"l","x":5.7,"y":360},{"line":"Mn-Kα: 138.2 ± 0.1 eV","seg":"l","x":5.72,"y":680},{"line":"Mn-Kα: 138.2 ± 0.1 eV","seg":"l","x":5.74,"y":1470},{"line":"Mn-Kα: 138.2 ± 0.1 eV","seg":"l","x":5.76,"y":3250},
{"line":"Mn-Kα: 138.2 ± 0.1 eV","seg":"r","x":6.04,"y":3250},{"line":"Mn-Kα: 138.2 ± 0.1 eV","seg":"r","x":6.06,"y":1470},{"line":"Mn-Kα: 138.2 ± 0.1 eV","seg":"r","x":6.08,"y":680},{"line":"Mn-Kα: 138.2 ± 0.1 eV","seg":"r","x":6.1,"y":360},{"line":"Mn-Kα: 138.2 ± 0.1 eV","seg":"r","x":6.12,"y":250},{"line":"Mn-Kα: 138.2 ± 0.1 eV","seg":"r","x":6.14,"y":222},
{"line":"Mn-Kβ: 148.3 ± 0.4 eV","seg":"l","x":6.1,"y":420},{"line":"Mn-Kβ: 148.3 ± 0.4 eV","seg":"l","x":6.15,"y":370},{"line":"Mn-Kβ: 148.3 ± 0.4 eV","seg":"l","x":6.2,"y":350},{"line":"Mn-Kβ: 148.3 ± 0.4 eV","seg":"l","x":6.25,"y":400},{"line":"Mn-Kβ: 148.3 ± 0.4 eV","seg":"l","x":6.31,"y":600},
{"line":"Mn-Kβ: 148.3 ± 0.4 eV","seg":"r","x":6.645,"y":420},{"line":"Mn-Kβ: 148.3 ± 0.4 eV","seg":"r","x":6.665,"y":250},{"line":"Mn-Kβ: 148.3 ± 0.4 eV","seg":"r","x":6.67,"y":1},
{"line":"Si-esc,Kα: 117.7 ± 1.4 eV","seg":"l","x":3.84,"y":21},{"line":"Si-esc,Kα: 117.7 ± 1.4 eV","seg":"l","x":3.88,"y":26},{"line":"Si-esc,Kα: 117.7 ± 1.4 eV","seg":"l","x":3.92,"y":32},{"line":"Si-esc,Kα: 117.7 ± 1.4 eV","seg":"l","x":3.97,"y":44},
{"line":"Mn-(Kα+Kα): 170.1 ± 3.3 eV","seg":"l","x":11.45,"y":12.2},{"line":"Mn-(Kα+Kα): 170.1 ± 3.3 eV","seg":"l","x":11.55,"y":12.5},{"line":"Mn-(Kα+Kα): 170.1 ± 3.3 eV","seg":"l","x":11.62,"y":16}
]
},
"layer":[
{"data":{"name":"data"},
 "mark":{"type":"rule","color":"black","strokeWidth":2.2,"clip":true},
 "encoding":{
  "x":{"field":"x","type":"quantitative","scale":{"domain":[0,20],"nice":false,"zero":false},
       "axis":{"orient":"bottom","values":[0,2,4,6,8,10,12,14,16,18,20],"grid":true,"gridColor":"#999","gridDash":[2,3],"gridWidth":1,"tickSize":-17,"tickColor":"black","tickWidth":1.2,"domainColor":"black","domainWidth":1.5,"labelFontSize":32,"labelPadding":25,"labelFlush":false,"labelOverlap":false,"title":null,"format":"d"}},
  "y":{"field":"lo","type":"quantitative","scale":{"type":"log","domain":[1,100000],"nice":false},
       "axis":{"orient":"left","values":[1,10,100,1000,10000,100000],"grid":true,"gridColor":"#999","gridDash":[2,3],"gridWidth":1,"tickSize":-23,"tickColor":"black","tickWidth":1.2,"domainColor":"black","domainWidth":1.5,"labelFontSize":32,"labelPadding":32,"labelFlush":false,"labelOverlap":false,
               "labelExpr":"datum.value == 1 ? '1' : datum.value == 10 ? '10' : datum.value == 100 ? '10²' : datum.value == 1000 ? '10³' : datum.value == 10000 ? '10⁴' : '10⁵'",
               "title":"Counts / 10 eV","titleFontSize":32,"titleFontWeight":"normal","titleX":-79,"titleY":0,"titleAngle":-90,"titleAlign":"right","titleBaseline":"bottom"}},
  "y2":{"field":"hi"}
 }},
{"data":{"name":"data"},
 "mark":{"type":"point","filled":true,"color":"black","size":14,"opacity":1,"clip":true},
 "encoding":{
  "x":{"field":"x","type":"quantitative","scale":{"domain":[0,20],"nice":false,"zero":false},
       "axis":{"orient":"bottom","values":[0.5,1,1.5,2.5,3,3.5,4.5,5,5.5,6.5,7,7.5,8.5,9,9.5,10.5,11,11.5,12.5,13,13.5,14.5,15,15.5,16.5,17,17.5,18.5,19,19.5],"labels":false,"domain":false,"grid":false,"tickSize":-10,"tickColor":"black","tickWidth":1.2,"title":null}},
  "y":{"field":"y","type":"quantitative","scale":{"type":"log","domain":[1,100000],"nice":false},
       "axis":{"orient":"left","values":[2,3,4,5,6,7,8,9,20,30,40,50,60,70,80,90,200,300,400,500,600,700,800,900,2000,3000,4000,5000,6000,7000,8000,9000,20000,30000,40000,50000,60000,70000,80000,90000],"labels":false,"domain":false,"grid":false,"tickSize":-12,"tickColor":"black","tickWidth":1.2,"title":null}}
 }},
{"data":{"name":"bkg"},
 "mark":{"type":"line","color":"#ff2a2a","strokeWidth":2.5,"strokeDash":[4,3],"clip":true},
 "encoding":{
  "x":{"field":"x","type":"quantitative","scale":{"domain":[0,20],"nice":false,"zero":false},"axis":null},
  "y":{"field":"y","type":"quantitative","scale":{"type":"log","domain":[1,100000],"nice":false},"axis":null}
 }},
{"data":{"name":"fits"},
 "mark":{"type":"line","strokeWidth":2.5,"clip":true},
 "encoding":{
  "x":{"field":"x","type":"quantitative","scale":{"domain":[0,20],"nice":false,"zero":false},"axis":null},
  "y":{"field":"y","type":"quantitative","scale":{"type":"log","domain":[1,100000],"nice":false},"axis":null},
  "detail":{"field":"seg"},
  "color":{"field":"line","type":"nominal",
    "scale":{"domain":["Mn-Kα: 138.2 ± 0.1 eV","Mn-Kβ: 148.3 ± 0.4 eV","Si-esc,Kα: 117.7 ± 1.4 eV","Si-esc,Kβ: 181.5 ± 4.1 eV","Ni-Kα: 148.5 ± 2.4 eV","Ar-Kα: 94.9 ± 2.2 eV","Mn-(Kα+Kα): 170.1 ± 3.3 eV","Mn-(Kα+Kβ): 171.7 ± 6.6 eV"],
             "range":["#ff2a2a","#1a1aff","#ff44ff","#33ee33","#c020ff","#ffc820","#40f5d0","#b8b8b8"]},
    "legend":{"orient":"none","legendX":392,"legendY":-24,"title":"X-ray lines and resolution (FWHM)","titleFontSize":27,"titleFontWeight":"normal","titleFont":"DejaVu Sans","titleColor":"#222","titlePadding":12,"titleLimit":700,
              "labelFontSize":27,"labelFont":"DejaVu Sans","labelColor":"#222","labelLimit":700,
              "symbolType":"M-2.5,0H2.5","symbolSize":1225,"symbolStrokeWidth":3,"symbolOffset":39,"labelOffset":42,"rowPadding":8.3,"padding":6,
              "strokeColor":"#666","fillColor":"white","cornerRadius":0}}
 }},
{"data":{"name":"tails"},
 "mark":{"type":"line","strokeWidth":2.5,"strokeDash":[2,3],"clip":true},
 "encoding":{
  "x":{"field":"x","type":"quantitative","scale":{"domain":[0,20],"nice":false,"zero":false},"axis":null},
  "y":{"field":"y","type":"quantitative","scale":{"type":"log","domain":[1,100000],"nice":false},"axis":null},
  "detail":{"field":"seg"},
  "color":{"field":"line","type":"nominal","legend":null}
 }}
]
}
